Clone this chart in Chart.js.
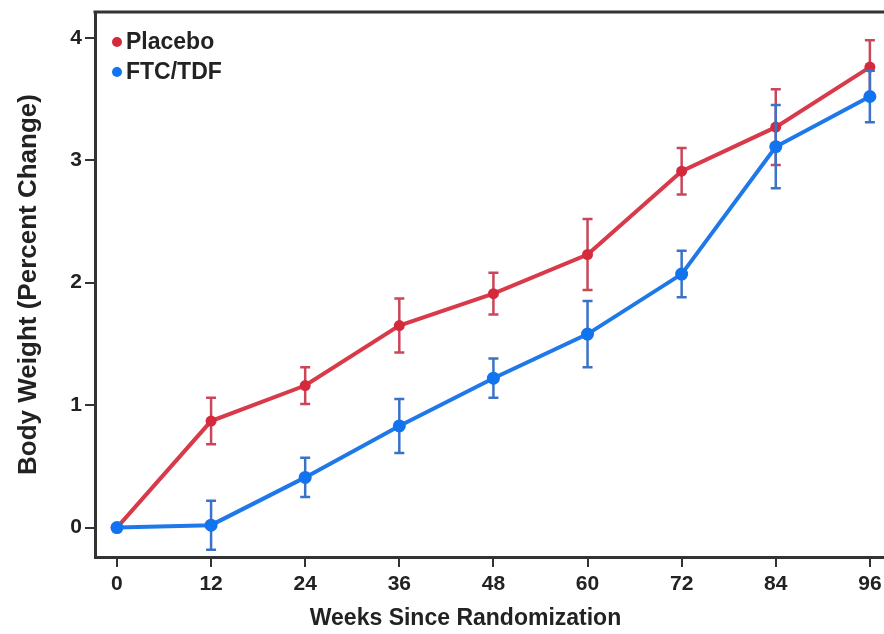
<!DOCTYPE html>
<html>
<head>
<meta charset="utf-8">
<script src="https://cdn.jsdelivr.net/npm/chart.js@4.4.1/dist/chart.umd.min.js"></script>
<style>
  html, body { margin: 0; padding: 0; background: #fff; }
</style>
</head>
<body>
<canvas id="weightChart" width="884" height="634"></canvas>
<script>
// weeks since randomization and mean percent change in body weight (+/- error)
const weeks = [0, 12, 24, 36, 48, 60, 72, 84, 96];
const placebo = [0, 0.87, 1.16, 1.65, 1.91, 2.23, 2.91, 3.27, 3.76];
const placeboErr = [0, 0.19, 0.15, 0.22, 0.17, 0.29, 0.19, 0.31, 0.22];
const ftcTdf = [0, 0.02, 0.41, 0.83, 1.22, 1.58, 2.07, 3.11, 3.52];
const ftcTdfErr = [0, 0.20, 0.16, 0.22, 0.16, 0.27, 0.19, 0.34, 0.21];
const xTicks = [0, 12, 24, 36, 48, 60, 72, 84, 96];
const yTicks = [0, 1, 2, 3, 4];
const xTitle = 'Weeks Since Randomization';

const axisColor = '#333';
const textColor = '#222';
const fontFamily = 'Liberation Sans';

// vertical error bars with caps, drawn just before each line
const errorBars = {
    id: 'errorBars',
    beforeDatasetDraw(chart, args) {
        const ds = chart.data.datasets[args.index];
        if (!ds.errors) return;
        const ctx = chart.ctx;
        const xs = chart.scales.x, ys = chart.scales.y;
        ctx.save();
        ctx.strokeStyle = ds.errorColor;
        ctx.lineWidth = 2.5;
        ds.data.forEach((p, i) => {
            const e = ds.errors[i];
            if (!e) return;
            const px = xs.getPixelForValue(p.x);
            const top = ys.getPixelForValue(p.y + e);
            const bot = ys.getPixelForValue(p.y - e);
            ctx.beginPath();
            ctx.moveTo(px, top); ctx.lineTo(px, bot);
            ctx.moveTo(px - 5, top); ctx.lineTo(px + 5, top);
            ctx.moveTo(px - 5, bot); ctx.lineTo(px + 5, bot);
            ctx.stroke();
        });
        ctx.restore();
    }
};

// top edge of the plot frame, x-axis title and the legend in the upper-left corner
const frameAndLegend = {
    id: 'frameAndLegend',
    afterDraw(chart) {
        const {ctx, chartArea} = chart;
        ctx.save();
        ctx.strokeStyle = axisColor;
        ctx.lineWidth = 3;
        ctx.beginPath();
        ctx.moveTo(chartArea.left - 1.5, chartArea.top);
        ctx.lineTo(chartArea.right, chartArea.top);
        ctx.stroke();

        // axis title sits a little left of the plot centre
        ctx.fillStyle = textColor;
        ctx.font = 'bold 23px ' + fontFamily;
        ctx.textAlign = 'center';
        ctx.textBaseline = 'middle';
        ctx.fillText(xTitle, (chartArea.left + chartArea.right) / 2 - 24, chartArea.bottom + 62);

        ctx.textAlign = 'left';
        const x0 = chartArea.left + 22;
        let y0 = chartArea.top + 30;
        chart.data.datasets.forEach(ds => {
            ctx.fillStyle = ds.pointBackgroundColor;
            ctx.beginPath();
            ctx.arc(x0, y0, 5, 0, Math.PI * 2);
            ctx.fill();
            ctx.fillStyle = textColor;
            ctx.fillText(ds.label, x0 + 9, y0 + 1);
            y0 += 30;
        });
        ctx.restore();
    }
};

const toPoints = vals => weeks.map((w, i) => ({x: w, y: vals[i]}));

new Chart(document.getElementById('weightChart'), {
    type: 'line',
    data: {
        datasets: [
            {
                label: 'Placebo',
                data: toPoints(placebo),
                errors: placeboErr,
                errorColor: '#c9475a',
                borderColor: '#d83a4a',
                pointBackgroundColor: '#d42a3c',
                pointBorderColor: '#d42a3c',
                pointBorderWidth: 0,
                pointRadius: 5.5,
                borderWidth: 4,
                tension: 0,
                order: 1
            },
            {
                label: 'FTC/TDF',
                data: toPoints(ftcTdf),
                errors: ftcTdfErr,
                errorColor: '#3a72c8',
                borderColor: '#1f78e8',
                pointBackgroundColor: '#1273ef',
                pointBorderColor: '#1273ef',
                pointBorderWidth: 0,
                pointRadius: 6.5,
                borderWidth: 4,
                tension: 0,
                order: 0
            }
        ]
    },
    plugins: [errorBars, frameAndLegend],
    options: {
        responsive: false,
        animation: false,
        devicePixelRatio: 1,
        layout: { autoPadding: false, padding: { top: 12, right: 0, left: 0, bottom: 0 } },
        plugins: {
            tooltip: { enabled: false },
            legend: { display: false }
        },
        scales: {
            x: {
                type: 'linear',
                min: -2.8,
                max: 97.8,
                afterBuildTicks: axis => { axis.ticks = xTicks.map(v => ({value: v})); },
                afterFit: axis => { axis.height = 77; axis.paddingRight = 0; axis.paddingLeft = 0; },
                border: { display: true, color: axisColor, width: 3 },
                grid: { drawOnChartArea: false, drawTicks: true, tickLength: 10, color: axisColor, lineWidth: 2 },
                ticks: {
                    padding: 5,
                    color: textColor,
                    maxRotation: 0,
                    font: { family: fontFamily, size: 21, weight: 'bold' }
                },
                title: { display: false }
            },
            y: {
                min: -0.24,
                max: 4.21,
                afterBuildTicks: axis => { axis.ticks = yTicks.map(v => ({value: v})); },
                afterFit: axis => { axis.width = 95; axis.paddingTop = 0; axis.paddingBottom = 0; },
                border: { display: true, color: axisColor, width: 3 },
                grid: { drawOnChartArea: false, drawTicks: true, tickLength: 10, color: axisColor, lineWidth: 2 },
                ticks: {
                    padding: 3,
                    color: textColor,
                    font: { family: fontFamily, size: 21, weight: 'bold' }
                },
                title: {
                    display: true,
                    text: 'Body Weight (Percent Change)',
                    color: textColor,
                    padding: { top: 13, bottom: 0 },
                    font: { family: fontFamily, size: 26, weight: 'bold' }
                }
            }
        }
    }
});
</script>
</body>
</html>
